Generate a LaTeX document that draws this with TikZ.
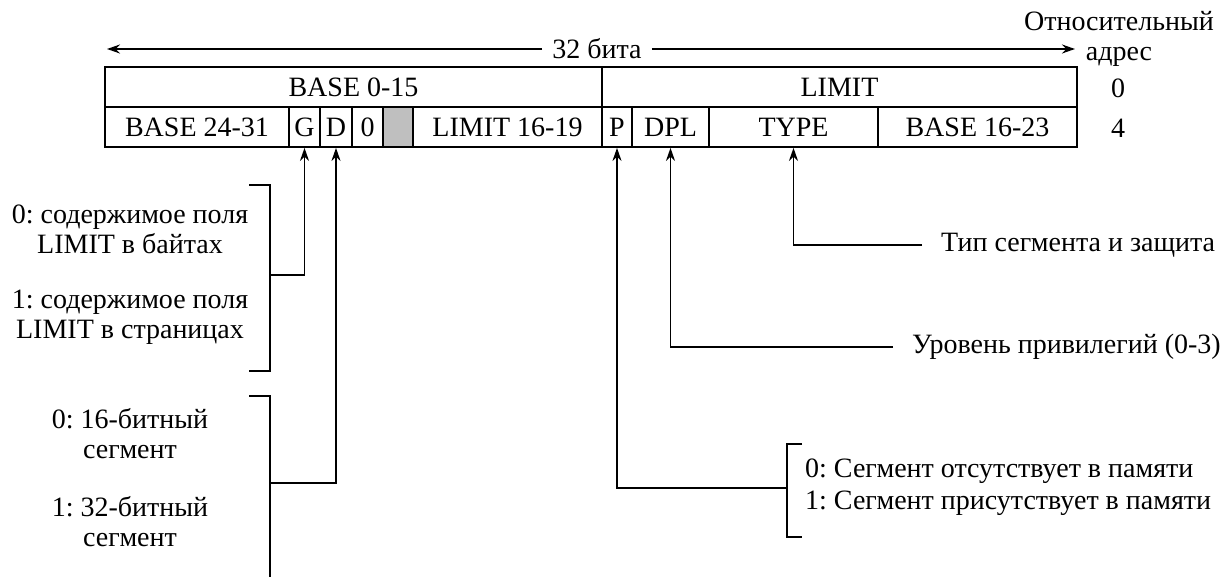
\documentclass[tikz,border=0pt]{standalone}
\usepackage{fontspec}
\setmainfont{Liberation Serif}
\usetikzlibrary{arrows.meta,positioning}
\frenchspacing
\tikzset{
  cell/.style={draw,line width=1.8pt,inner sep=0pt,minimum height=40pt},
  holecell/.style={cell,fill=black!25},
  ptr/.style={-{Stealth[length=13pt,width=9pt]},line width=1.8pt},
  bracket/.style={line width=1.8pt},
  note/.style={align=center,inner sep=0pt},
  tag/.style={anchor=west,inner xsep=19pt,inner ysep=0pt},
  gapbox/.style={fill=white,inner xsep=10pt,inner ysep=2pt},
}

\begin{document}
\begin{tikzpicture}[x=1pt,y=-1pt,font=\fontsize{28}{30}\selectfont]
    \useasboundingbox (0,0) rectangle (1227,576);
    % descriptor, offset 0
    \node[cell,minimum width=497pt] (base0) at (353.5,87) {BASE 0-15};
    \node[cell,minimum width=475pt] (limit) at (839.5,87) {LIMIT};
    % descriptor, offset 4
    \node[cell,minimum width=184pt] (base24) at (197,127) {BASE 24-31};
    \node[cell,minimum width=31pt] (g) at (304.5,127) {G};
    \node[cell,minimum width=32pt] (d) at (336,127) {D};
    \node[cell,minimum width=31pt] (zero) at (367.5,127) {0};
    \node[holecell,minimum width=30pt] (avl) at (398,127) {};
    \node[cell,minimum width=189pt] (limit16) at (507.5,127) {LIMIT 16-19};
    \node[cell,minimum width=30pt] (p) at (617,127) {P};
    \node[cell,minimum width=77pt] (dpl) at (670.5,127) {DPL};
    \node[cell,minimum width=169pt] (type) at (793.5,127) {TYPE};
    \node[cell,minimum width=199pt] (base16) at (977.5,127) {BASE 16-23};
    % width and offsets
    \node[gapbox] (bits) at (597,49) {32 бита};
    \coordinate (bitsL) at (107,49);
    \coordinate (bitsR) at (1075,49);
    \draw[ptr] (bits.west) -- (bitsL);
    \draw[ptr] (bits.east) -- (bitsR);
    \node[note] (reladdr) at (1119,39) {Относительный\\адрес};
    \node (off0) at (1118,88) {0};
    \node (off4) at (1118,128) {4};
    % G and D flags
    \draw[bracket] (249,185) -- (270,185) -- (270,371) -- (249,371);
    \draw[bracket] (249,396) -- (270,396) -- (270,580);
    \coordinate (gfoot) at (270,275);
    \coordinate (dfoot) at (270,483);
    \draw[ptr] (gfoot) -| (g.south);
    \draw[ptr] (dfoot) -| (d.south);
    \node[note] (gbytes) at (130,229) {0: содержимое поля\\LIMIT в байтах};
    \node[note] (gpages) at (130,317) {1: содержимое поля\\LIMIT в страницах};
    \node[note] (d16) at (130,434) {0: 16-битный\\сегмент};
    \node[note] (d32) at (130,522) {1: 32-битный\\сегмент};
    % P, DPL, TYPE
    \node[tag] (typetxt) at (922,245) {Тип сегмента и защита};
    \node[tag] (dpltxt) at (893,347) {Уровень привилегий (0-3)};
    \draw[ptr] (typetxt.west) -| (type.south);
    \draw[ptr] (dpltxt.west) -| (dpl.south);
    \draw[bracket] (802,444) -- (787,444) -- (787,537) -- (802,537);
    \coordinate (pfoot) at (787,488);
    \draw[ptr] (pfoot) -| (p.south);
    \node[note,align=left,anchor=west,font=\fontsize{28}{32}\selectfont] (ptxt) at (805,487)
      {0: Сегмент отсутствует в памяти\\1: Сегмент присутствует в памяти};
\end{tikzpicture}
\end{document}
